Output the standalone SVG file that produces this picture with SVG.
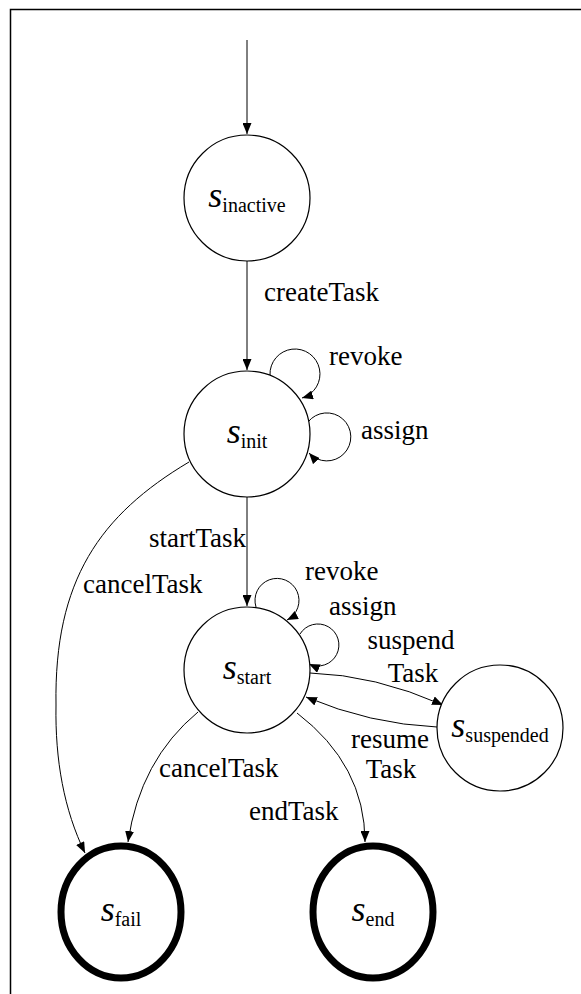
<svg xmlns="http://www.w3.org/2000/svg" width="581" height="994" viewBox="0 0 581 994">
  <style>
    .state { fill: #fff; stroke: #000; stroke-width: 1.2; }
    .final { fill: #fff; stroke: #000; stroke-width: 7; }
    .edge { fill: none; stroke: #000; stroke-width: 1; }
    text { font-family: 'Liberation Serif', 'DejaVu Serif', serif; fill: #000; }
    .lbl { font-size: 27px; }
    .nm { text-anchor: middle; }
    .s { font-style: italic; font-size: 36px; }
    .sub { font-size: 20px; }
  </style>
  <defs>
    <marker id="arrow" markerUnits="userSpaceOnUse" markerWidth="11" markerHeight="9" refX="11" refY="4.5" orient="auto">
      <path d="M0,0 L11,4.5 L0,9 z" fill="#000"/>
    </marker>
  </defs>

  <rect width="581" height="994" fill="#fff"/>
  <!-- frame -->
  <path d="M10.5,994 L10.5,9.5 L581,9.5" fill="none" stroke="#000" stroke-width="1.5"/>

  <g id="connectors">
    <path class="edge" d="M247,40 L247,134" marker-end="url(#arrow)"/>
    <path class="edge" d="M247,261 L247,370" marker-end="url(#arrow)"/>
    <path class="edge" d="M270,375 A25,25 0 1 1 302,398" marker-end="url(#arrow)"/>
    <path class="edge" d="M308,422 A24,24 0 1 1 309,453" marker-end="url(#arrow)"/>
    <path class="edge" d="M247,497 L247,606" marker-end="url(#arrow)"/>
    <path class="edge" d="M189,462 C100,515 54,580 56,705 C55,760 64,810 85,853" marker-end="url(#arrow)"/>
    <path class="edge" d="M256,607 A22,22 0 1 1 287,620" marker-end="url(#arrow)"/>
    <path class="edge" d="M300,634 A21,21 0 1 1 309,664" marker-end="url(#arrow)"/>
    <path class="edge" d="M310,673 Q375,675 443,705" marker-end="url(#arrow)"/>
    <path class="edge" d="M437,727 Q370,724 306,697" marker-end="url(#arrow)"/>
    <path class="edge" d="M198,712 Q140,760 128,842" marker-end="url(#arrow)"/>
    <path class="edge" d="M297,713 Q365,765 365,842" marker-end="url(#arrow)"/>
  </g>

  <g id="edge-labels">
    <text class="lbl" x="264" y="301">createTask</text>
    <text class="lbl" x="329" y="365">revoke</text>
    <text class="lbl" x="361" y="439">assign</text>
    <text class="lbl" x="149" y="547">startTask</text>
    <text class="lbl" x="83" y="593">cancelTask</text>
    <text class="lbl" x="305" y="580">revoke</text>
    <text class="lbl" x="329" y="615">assign</text>
    <text class="lbl" x="411" y="649" text-anchor="middle">suspend</text>
    <text class="lbl" x="413" y="682" text-anchor="middle">Task</text>
    <text class="lbl" x="390" y="748" text-anchor="middle">resume</text>
    <text class="lbl" x="391" y="778" text-anchor="middle">Task</text>
    <text class="lbl" x="159" y="777">cancelTask</text>
    <text class="lbl" x="249" y="820">endTask</text>
  </g>

  <g id="s-inactive">
    <circle class="state" cx="247" cy="198" r="63"/>
    <text class="nm" x="247" y="207"><tspan class="s">s</tspan><tspan class="sub" dy="5">inactive</tspan></text>
  </g>
  <g id="s-init">
    <circle class="state" cx="247" cy="434" r="63"/>
    <text class="nm" x="247" y="443"><tspan class="s">s</tspan><tspan class="sub" dy="5">init</tspan></text>
  </g>
  <g id="s-start">
    <circle class="state" cx="247" cy="670" r="63"/>
    <text class="nm" x="247" y="679"><tspan class="s">s</tspan><tspan class="sub" dy="5">start</tspan></text>
  </g>
  <g id="s-suspended">
    <circle class="state" cx="500" cy="728" r="63"/>
    <text class="nm" x="500" y="737"><tspan class="s">s</tspan><tspan class="sub" dy="5">suspended</tspan></text>
  </g>
  <g id="s-fail">
    <ellipse class="final" cx="121" cy="912" rx="60" ry="66"/>
    <text class="nm" x="121" y="921"><tspan class="s">s</tspan><tspan class="sub" dy="5">fail</tspan></text>
  </g>
  <g id="s-end">
    <ellipse class="final" cx="373" cy="912" rx="60" ry="66"/>
    <text class="nm" x="373" y="921"><tspan class="s">s</tspan><tspan class="sub" dy="5">end</tspan></text>
  </g>
</svg>
